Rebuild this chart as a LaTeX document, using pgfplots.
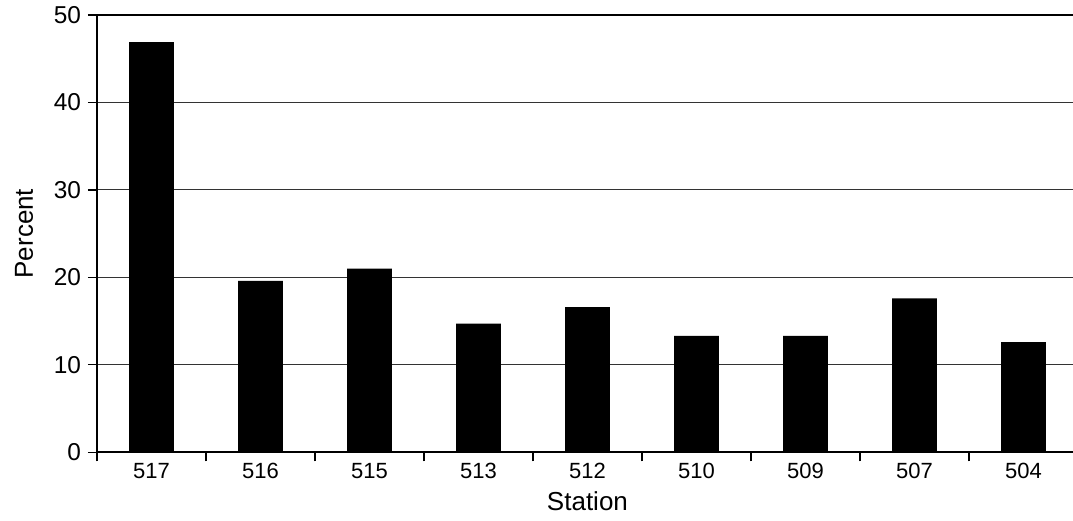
\documentclass[border=0pt]{standalone}
\usepackage{pgfplots}
\pgfplotsset{compat=1.18}
\usepackage{fontspec}
\setmainfont{Liberation Sans}
\begin{document}
\begin{tikzpicture}
\begin{axis}[
  scale only axis,
  width=488pt, height=218.65pt,
  xmin=-0.5, xmax=8.455,
  ymin=0, ymax=50,
  axis x line=bottom, axis y line=left,
  axis line style={-, black, line width=0.9pt},
  ytick={0,10,...,50},
  ymajorgrids,
  major grid style={line width=0.55pt, color=black!80},
  xtick={0,...,8},
  xticklabels={517,516,515,513,512,510,509,507,504},
  minor xtick={-0.5,0.5,...,7.5},
  major x tick style={draw=none},
  minor tick length=4.5pt,
  major tick length=4.5pt,
  tick align=outside,
  tick style={black, line width=0.6pt},
  /pgf/number format/assume math mode=true,
  yticklabel style={font=\fontsize{12.2}{14}\selectfont},
  xticklabel style={font=\fontsize{11}{13}\selectfont, anchor=base, yshift=-8.5pt},
  xlabel={Station}, ylabel={Percent},
  label style={font=\fontsize{13}{15}\selectfont},
  xlabel style={at={(axis cs:4,-6.6)}, anchor=base},
  ylabel style={at={(axis cs:-1.17,25)}, anchor=center},
  clip=false,
]
\addplot[ybar, bar width=0.41, fill=black, draw=none] coordinates {
  (0,46.9) (1,19.6) (2,21.0) (3,14.7) (4,16.6) (5,13.3) (6,13.3) (7,17.6) (8,12.6)
};
\draw[black, line width=0.9pt] (rel axis cs:0,1) -- (rel axis cs:1,1);
\coordinate (sw) at (rel axis cs:0,0);
\coordinate (ne) at (rel axis cs:1,1);
\end{axis}
\pgfresetboundingbox
\path ([xshift=-48.5pt,yshift=-34.35pt]sw) rectangle ([yshift=7.5pt]ne);
\end{tikzpicture}
\end{document}
